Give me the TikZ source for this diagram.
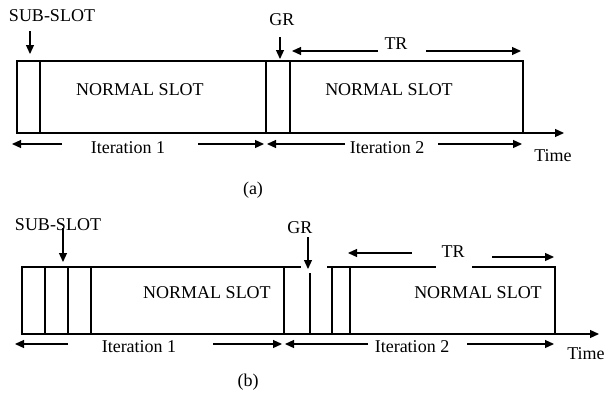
\documentclass[tikz,border=0pt]{standalone}
\usepackage{fontspec}
\setmainfont{Liberation Serif}
\usetikzlibrary{arrows.meta}
\begin{document}
\begin{tikzpicture}[x=1pt,y=-1pt,
  lbl/.style={inner sep=0pt,font=\fontsize{18}{20}\selectfont},
  box/.style={line width=1.3pt,line cap=rect},
  arr/.style={line width=1.2pt,-{Triangle[length=9pt,width=8pt]}}]
\useasboundingbox (0,0) rectangle (606,394);
% ---------------- (a) ----------------
\draw[box] (17,61) rectangle (523,133);
\draw[box] (40,61) -- (40,133);
\draw[box] (266,61) -- (266,133);
\draw[box] (290,61) -- (290,133);
\coordinate (aend) at (523,133);
\coordinate (atime) at (564,133);
\draw[arr] (aend) -- (atime);
\node[lbl] (timeA) at (553,156) {Time};
\node[lbl] (subA) at (52,16) {SUB-SLOT};
\coordinate (subAs) at (30,31); \coordinate (subAe) at (30,54);
\draw[arr] (subAs) -- (subAe);
\node[lbl] (grA) at (282,20) {GR};
\coordinate (grAs) at (280,37); \coordinate (grAe) at (280,59);
\draw[arr] (grAs) -- (grAe);
\node[lbl] (trA) at (396,44) {TR};
\coordinate (trAl1) at (378,51); \coordinate (trAl2) at (292,51);
\coordinate (trAr1) at (426,51); \coordinate (trAr2) at (521,51);
\draw[arr] (trAl1) -- (trAl2);
\draw[arr] (trAr1) -- (trAr2);
\node[lbl] (nsA1) at (140,90) {NORMAL SLOT};
\node[lbl] (nsA2) at (389,90) {NORMAL SLOT};
\node[lbl] (itA1) at (128,148) {Iteration 1};
\coordinate (itA1l1) at (62,144); \coordinate (itA1l2) at (12,144);
\coordinate (itA1r1) at (198,144); \coordinate (itA1r2) at (264,144);
\draw[arr] (itA1l1) -- (itA1l2);
\draw[arr] (itA1r1) -- (itA1r2);
\node[lbl] (itA2) at (387,148) {Iteration 2};
\coordinate (itA2l1) at (345,144); \coordinate (itA2l2) at (267,144);
\coordinate (itA2r1) at (438,144); \coordinate (itA2r2) at (522,144);
\draw[arr] (itA2l1) -- (itA2l2);
\draw[arr] (itA2r1) -- (itA2r2);
\node[lbl] (capA) at (253,190) {(a)};
% ---------------- (b) ----------------
\draw[box] (22,267) -- (300,267);
\draw[box] (328,267) -- (435,267);
\draw[box] (473,267) -- (555,267) -- (555,334) -- (22,334) -- (22,267);
\draw[box] (45,267) -- (45,334);
\draw[box] (68,267) -- (68,334);
\draw[box] (91,267) -- (91,334);
\draw[box] (284,267) -- (284,334);
\draw[box] (310,274) -- (310,334);
\draw[box] (332,267) -- (332,334);
\draw[box] (350,267) -- (350,334);
\coordinate (bend) at (555,334);
\coordinate (btime) at (599,334);
\draw[arr] (bend) -- (btime);
\node[lbl] (timeB) at (586,354) {Time};
\node[lbl] (subB) at (58,225) {SUB-SLOT};
\coordinate (subBs) at (63,228); \coordinate (subBe) at (63,262);
\draw[arr] (subBs) -- (subBe);
\node[lbl] (grB) at (300,228) {GR};
\coordinate (grBs) at (308,237); \coordinate (grBe) at (308,269);
\draw[arr] (grBs) -- (grBe);
\node[lbl] (trB) at (453,252) {TR};
\coordinate (trBl1) at (412,253); \coordinate (trBl2) at (348,253);
\coordinate (trBr1) at (492,257); \coordinate (trBr2) at (554,257);
\draw[arr] (trBl1) -- (trBl2);
\draw[arr] (trBr1) -- (trBr2);
\node[lbl] (nsB1) at (207,293) {NORMAL SLOT};
\node[lbl] (nsB2) at (478,293) {NORMAL SLOT};
\node[lbl] (itB1) at (139,347) {Iteration 1};
\coordinate (itB1l1) at (68,344); \coordinate (itB1l2) at (15,344);
\coordinate (itB1r1) at (213,344); \coordinate (itB1r2) at (282,344);
\draw[arr] (itB1l1) -- (itB1l2);
\draw[arr] (itB1r1) -- (itB1r2);
\node[lbl] (itB2) at (412,347) {Iteration 2};
\coordinate (itB2l1) at (368,344); \coordinate (itB2l2) at (285,344);
\coordinate (itB2r1) at (467,344); \coordinate (itB2r2) at (554,344);
\draw[arr] (itB2l1) -- (itB2l2);
\draw[arr] (itB2r1) -- (itB2r2);
\node[lbl] (capB) at (248,382) {(b)};
\end{tikzpicture}
\end{document}
